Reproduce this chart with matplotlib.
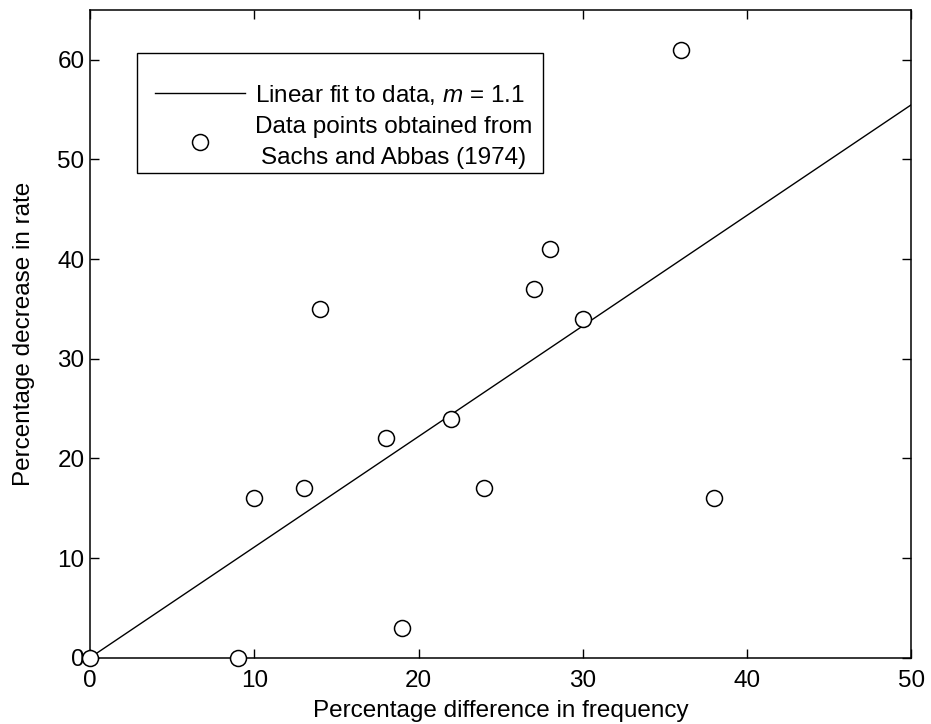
import numpy as np
import matplotlib
matplotlib.use('Agg')
import matplotlib.pyplot as plt
from matplotlib.patches import Rectangle

# data
freq_diff = [0, 9, 10, 13, 14, 18, 19, 22, 24, 27, 28, 30, 36, 38]
rate_drop = [0, 0, 16, 17, 35, 22, 3, 24, 17, 37, 41, 34, 61, 16]
slope = 1.11
fit_x = [0, 50]

xticks = [0, 10, 20, 30, 40, 50]
yticks = [0, 10, 20, 30, 40, 50, 60]

plt.rcParams['font.family'] = ['Liberation Sans', 'DejaVu Sans']
plt.rcParams['mathtext.fontset'] = 'custom'
plt.rcParams['mathtext.it'] = 'Liberation Sans:italic'
plt.rcParams['mathtext.rm'] = 'Liberation Sans'

fs = 17.5

fig = plt.figure(figsize=(9.31, 7.24), dpi=100)
ax = fig.add_axes([0.0967, 0.0916, 0.8823, 0.8946])

ax.plot(fit_x, [slope * v for v in fit_x], color='black', lw=1.0,
        label='Linear fit to data, $m$ = 1.1')
ax.plot(freq_diff, rate_drop, 'o', mfc='white', mec='black', ms=11.5, mew=1.1,
        clip_on=False, zorder=3,
        label='Data points obtained from\nSachs and Abbas (1974)')

ax.set_xlim(0, 50)
ax.set_ylim(0, 65)
ax.set_xticks(xticks)
ax.set_yticks(yticks)
ax.tick_params(direction='in', top=True, right=True, length=6.5, width=1.0,
               labelsize=fs)
ax.tick_params(axis='x', pad=9)
ax.tick_params(axis='y', pad=4)
for s in ax.spines.values():
    s.set_linewidth(1.1)

ax.set_xlabel('Percentage difference in frequency', fontsize=fs, labelpad=5.5)
ax.set_ylabel('Percentage decrease in rate', fontsize=fs, labelpad=16)

# legend box drawn separately (MATLAB style, uneven padding)
ax.add_patch(Rectangle((0.0568, 0.7479), 0.4948, 0.1862, transform=ax.transAxes,
                       fill=True, facecolor='white', edgecolor='black', lw=1.0,
                       zorder=4))
leg = ax.legend(loc='upper left', bbox_to_anchor=(0.0791, 0.888), fontsize=fs,
                frameon=False, handlelength=3.7, handletextpad=0.42,
                borderpad=0, labelspacing=0.4, borderaxespad=0)
leg.set_zorder(5)
for t in leg.get_texts():
    t.set_multialignment('center')
    t.set_linespacing(1.5)

fig.savefig('out.png', dpi=100, facecolor='white')
